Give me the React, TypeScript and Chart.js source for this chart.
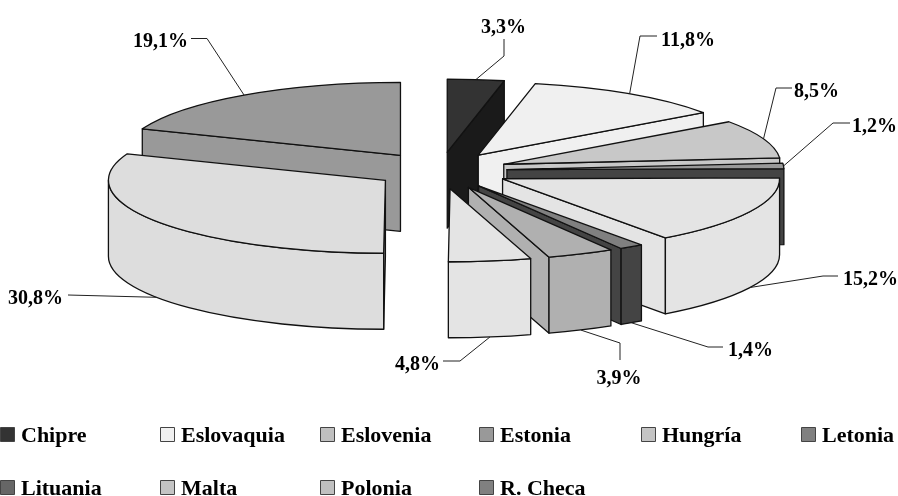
import React, { useEffect, useRef } from "react";
import { Chart, registerables } from "chart.js";

Chart.register(...registerables);

const categories = ["Chipre", "Eslovaquia", "Eslovenia", "Estonia", "Hungría", "Letonia", "Lituania", "Malta", "Polonia", "R. Checa"];
const shares = [3.3, 11.8, 8.5, 1.2, 15.2, 1.4, 3.9, 4.8, 30.8, 19.1];
const topColors = ["#333333", "#f0f0f0", "#c8c8c8", "#999999", "#e4e4e4", "#808080", "#b0b0b0", "#e4e4e4", "#dddddd", "#999999"];
const wallColors = ["#1a1a1a", "#f0f0f0", "#c8c8c8", "#444444", "#e4e4e4", "#444444", "#b0b0b0", "#e4e4e4", "#dddddd", "#999999"];
const legendColors = ["#333333", "#f0f0f0", "#c0c0c0", "#999999", "#c4c4c4", "#808080", "#666666", "#c4c4c4", "#c0c0c0", "#808080"];
const explodeOffsets = [70, 70, 68, 67, 70, 70, 70, 70, 66, 70];

// Layout only: leader elbows and label anchors, [elbowX, elbowY, endX, endY, textX, textY, align]
const leaderLayout: [number, number, number, number, number, number, CanvasTextAlign][] = [
  [504, 56, 504, 39, 503.5, 26, "center"],
  [640, 36, 657, 36, 661, 39, "left"],
  [776, 88, 792, 88, 794, 90, "left"],
  [833, 123, 850, 123, 852, 125, "left"],
  [823, 276, 838, 276, 843, 278, "left"],
  [708, 347, 723, 347, 728, 349, "left"],
  [620, 343, 620, 360, 619, 377, "center"],
  [460, 361, 443, 361, 440, 363, "right"],
  [68, 295, 68, 295, 63, 297, "right"],
  [207, 38.5, 191, 38.5, 188, 40, "right"],
];

const TILT = 0.2635;
const DEPTH = 76;
const RADIUS = 277;
const LABEL_FONT = "bold 20px 'Liberation Serif'";
const LEGEND_FONT = "bold 22px 'Liberation Serif'";
const legendColumns = [0, 160, 320, 479, 641, 801];
const legendRows = [435, 488];
const EDGE = "#111111";

const pie3d = {
  id: "pie3d",
  beforeDatasetDraw(chart: any) {
    const ctx: CanvasRenderingContext2D = chart.ctx;
    const arcs = chart.getDatasetMeta(0).data.map((arc: any, i: number) => {
      const mid = (arc.startAngle + arc.endAngle) / 2;
      const off = arc.options.offset;
      return {
        i,
        s: arc.startAngle,
        e: arc.endAngle,
        r: arc.outerRadius,
        mid,
        x: arc.x + off * Math.cos(mid),
        y: arc.y + off * Math.sin(mid) * TILT,
      };
    });
    const pt = (a: any, ang: number) => [a.x + a.r * Math.cos(ang), a.y + a.r * TILT * Math.sin(ang)];
    const paint = () => {
      ctx.fill();
      ctx.stroke();
    };

    ctx.save();
    ctx.lineWidth = 1.3;
    ctx.strokeStyle = EDGE;
    ctx.lineJoin = "round";
    const wall = (a: any, ang: number) => {
      const [px, py] = pt(a, ang);
      ctx.beginPath();
      ctx.moveTo(a.x, a.y);
      ctx.lineTo(px, py);
      ctx.lineTo(px, py + DEPTH);
      ctx.lineTo(a.x, a.y + DEPTH);
      ctx.closePath();
      paint();
    };
    [...arcs]
      .sort((p, q) => p.y - q.y)
      .forEach((a) => {
        ctx.fillStyle = wallColors[a.i];
        if (Math.cos(a.s) < 0) wall(a, a.s);
        if (Math.cos(a.e) > 0) wall(a, a.e);
        const from = Math.max(a.s, 0);
        const to = Math.min(a.e, Math.PI);
        if (from < to) {
          const ry = a.r * TILT;
          ctx.beginPath();
          ctx.ellipse(a.x, a.y, a.r, ry, 0, from, to);
          ctx.ellipse(a.x, a.y + DEPTH, a.r, ry, 0, to, from, true);
          ctx.closePath();
          paint();
        }
        ctx.fillStyle = topColors[a.i];
        ctx.beginPath();
        ctx.moveTo(a.x, a.y);
        ctx.ellipse(a.x, a.y, a.r, a.r * TILT, 0, a.s, a.e);
        ctx.closePath();
        paint();
      });

    // Leaders and value labels
    ctx.lineWidth = 1;
    ctx.strokeStyle = "#222222";
    ctx.fillStyle = "#000000";
    ctx.font = LABEL_FONT;
    ctx.textBaseline = "alphabetic";
    arcs.forEach((a: any) => {
      const [ax, ay0] = pt(a, a.mid);
      const ay = ay0 + (Math.sin(a.mid) > 0 ? DEPTH : 0);
      const [ex, ey, tx, ty, lx, ly, align] = leaderLayout[a.i];
      ctx.beginPath();
      ctx.moveTo(ax, ay);
      ctx.lineTo(ex, ey);
      ctx.lineTo(tx, ty);
      ctx.stroke();
      ctx.textAlign = align;
      ctx.fillText(shares[a.i].toFixed(1).replace(".", ",") + "%", lx, ly + 7);
    });

    // Legend in a fixed grid of columns
    ctx.font = LEGEND_FONT;
    ctx.textAlign = "left";
    chart.data.labels.forEach((label: string, i: number) => {
      const x = legendColumns[i % legendColumns.length];
      const y = legendRows[Math.floor(i / legendColumns.length)];
      ctx.fillStyle = legendColors[i];
      ctx.strokeStyle = "#444444";
      ctx.lineWidth = 1;
      ctx.fillRect(x + 0.5, y - 7.5, 14, 14);
      ctx.strokeRect(x + 0.5, y - 7.5, 14, 14);
      ctx.fillStyle = "#000000";
      ctx.fillText(label, x + 21, y + 6.5);
    });
    ctx.restore();
    return false;
  },
};

export default function App() {
  const ref = useRef<HTMLCanvasElement>(null);
  useEffect(() => {
    const chart = new Chart(ref.current!, {
      type: "pie",
      data: {
        labels: categories,
        datasets: [{ data: shares, backgroundColor: topColors, borderWidth: 0, offset: explodeOffsets } as any],
      },
      options: {
        animation: false,
        responsive: false,
        radius: RADIUS,
        layout: { padding: { left: 0, top: 0, right: 18, bottom: 155 } },
        events: [],
        plugins: { legend: { display: false }, tooltip: { enabled: false } },
      } as any,
      plugins: [pie3d as any],
    });
    return () => chart.destroy();
  }, []);
  return (
    <canvas
      ref={ref}
      width={898}
      height={496}
      style={{ position: "absolute", left: 0, top: 0, width: 898, height: 496 }}
    />
  );
}
